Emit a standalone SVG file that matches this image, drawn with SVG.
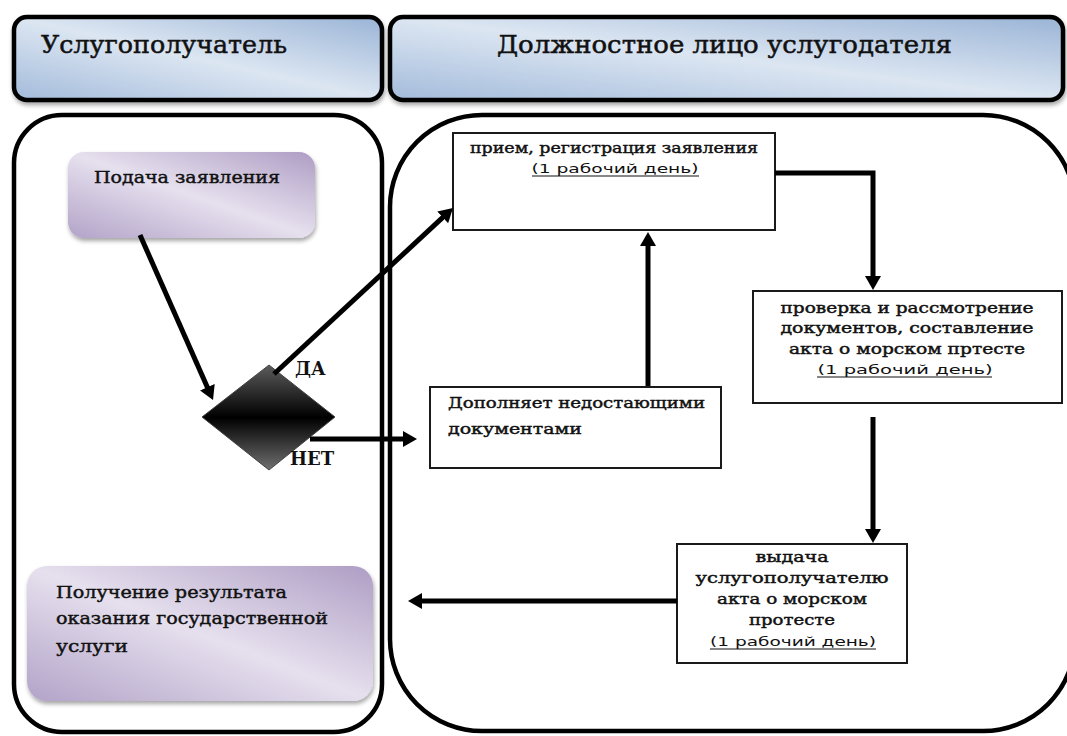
<svg xmlns="http://www.w3.org/2000/svg" width="1067" height="736" viewBox="0 0 1067 736">
<defs>
<linearGradient id="hg" x1="1" y1="0" x2="0" y2="1">
<stop offset="0" stop-color="#9ab4d6"/>
<stop offset="0.5" stop-color="#dce6f2"/>
<stop offset="1" stop-color="#a3bbdb"/>
</linearGradient>
<linearGradient id="pg" x1="1" y1="0" x2="0" y2="1">
<stop offset="0" stop-color="#ae9dc4"/>
<stop offset="0.5" stop-color="#e6e0ee"/>
<stop offset="1" stop-color="#b2a3c8"/>
</linearGradient>
<linearGradient id="dg" x1="0" y1="0" x2="0" y2="1">
<stop offset="0" stop-color="#5c5c5c"/>
<stop offset="0.5" stop-color="#000000"/>
<stop offset="1" stop-color="#707070"/>
</linearGradient>
<filter id="sh" x="-10%" y="-10%" width="120%" height="130%">
<feDropShadow dx="1" dy="3" stdDeviation="2" flood-color="#000" flood-opacity="0.35"/>
</filter>
<marker id="ah" markerUnits="userSpaceOnUse" markerWidth="16" markerHeight="18" refX="6" refY="8" orient="auto">
<path d="M0,0 L14,8 L0,16 Z" fill="#000"/>
</marker>
<style>
.hdr{fill:url(#hg);stroke:#000;stroke-width:4.5}
.lane{fill:#fff;stroke:#000;stroke-width:4.5}
.pur{fill:url(#pg);stroke:none}
.box{fill:#fff;stroke:#1a1a1a;stroke-width:2}
.ht{font-family:'DejaVu Serif',serif;font-size:25px;fill:#111;stroke:#111;stroke-width:0.5}
.t{font-family:'DejaVu Serif',serif;font-size:15px;fill:#111;stroke:#111;stroke-width:0.45}
.tb{font-family:'DejaVu Serif',serif;font-size:17px;fill:#111;stroke:#111;stroke-width:0.45}
.u{font-family:'DejaVu Sans',sans-serif;font-size:13px;fill:#111}
.ul{stroke:#111;stroke-width:1}
.lbl{font-family:'DejaVu Serif',serif;font-size:18px;font-weight:bold;fill:#111}
.c{stroke:#000;stroke-width:5;fill:none;marker-end:url(#ah)}
</style>
</defs>
<rect width="1067" height="736" fill="#fff"/>

<g id="header-recipient">
<rect class="hdr" x="14" y="17" width="368" height="83" rx="13" filter="url(#sh)"/>
<text class="ht" x="41" y="53" textLength="246" lengthAdjust="spacingAndGlyphs">Услугополучатель</text>
</g>
<g id="header-provider">
<rect class="hdr" x="390" y="17" width="673" height="83" rx="13" filter="url(#sh)"/>
<text class="ht" x="497" y="53" textLength="455" lengthAdjust="spacingAndGlyphs">Должностное лицо услугодателя</text>
</g>

<g id="lane-recipient">
<rect class="lane" x="14" y="115" width="368" height="617" rx="48"/>
</g>
<g id="lane-provider">
<rect class="lane" x="390" y="115" width="685" height="616" rx="92"/>
</g>

<g id="node-submit">
<rect class="pur" x="68" y="152" width="247" height="86" rx="16" filter="url(#sh)"/>
<text class="tb" x="94" y="183" textLength="186" lengthAdjust="spacingAndGlyphs">Подача заявления</text>
</g>

<g id="node-decision">
<polygon points="202,417 269,365 335,417 269,470" fill="url(#dg)" stroke="#444" stroke-width="1"/>
<text class="lbl" x="295" y="375">ДА</text>
<text class="lbl" x="290" y="465">НЕТ</text>
</g>

<g id="node-receive">
<rect class="box" x="453" y="133" width="322" height="97"/>
<text class="t" x="614" y="153" text-anchor="middle" textLength="288" lengthAdjust="spacingAndGlyphs">прием, регистрация заявления</text>
<text class="u" x="615" y="173" text-anchor="middle" textLength="167" lengthAdjust="spacingAndGlyphs">(1 рабочий день)</text>
<line class="ul" x1="532" y1="176" x2="699" y2="176"/>
</g>

<g id="node-supplement">
<rect class="box" x="430" y="387" width="291" height="81"/>
<text class="t" x="448" y="408" textLength="257" lengthAdjust="spacingAndGlyphs">Дополняет недостающими</text>
<text class="t" x="448" y="434" textLength="134" lengthAdjust="spacingAndGlyphs">документами</text>
</g>

<g id="node-check">
<rect class="box" x="753" y="291" width="309" height="112"/>
<text class="t" x="907" y="313" text-anchor="middle" textLength="253" lengthAdjust="spacingAndGlyphs">проверка и рассмотрение</text>
<text class="t" x="907" y="333" text-anchor="middle" textLength="253" lengthAdjust="spacingAndGlyphs">документов, составление</text>
<text class="t" x="907" y="354" text-anchor="middle" textLength="236" lengthAdjust="spacingAndGlyphs">акта о морском пртесте</text>
<text class="u" x="905" y="374" text-anchor="middle" textLength="175" lengthAdjust="spacingAndGlyphs">(1 рабочий день)</text>
<line class="ul" x1="817" y1="377" x2="992" y2="377"/>
</g>

<g id="node-issue">
<rect class="box" x="677" y="544" width="230" height="119"/>
<text class="t" x="792" y="562" text-anchor="middle" textLength="73" lengthAdjust="spacingAndGlyphs">выдача</text>
<text class="t" x="792" y="583" text-anchor="middle" textLength="193" lengthAdjust="spacingAndGlyphs">услугополучателю</text>
<text class="t" x="792" y="604" text-anchor="middle" textLength="150" lengthAdjust="spacingAndGlyphs">акта о морском</text>
<text class="t" x="792" y="625" text-anchor="middle" textLength="86" lengthAdjust="spacingAndGlyphs">протесте</text>
<text class="u" x="793" y="646" text-anchor="middle" textLength="166" lengthAdjust="spacingAndGlyphs">(1 рабочий день)</text>
<line class="ul" x1="710" y1="649" x2="876" y2="649"/>
</g>

<g id="node-result">
<rect class="pur" x="27" y="566" width="346" height="135" rx="20" filter="url(#sh)"/>
<text class="tb" x="56" y="598" textLength="231" lengthAdjust="spacingAndGlyphs">Получение результата</text>
<text class="tb" x="56" y="624" textLength="272" lengthAdjust="spacingAndGlyphs">оказания государственной</text>
<text class="tb" x="56" y="652" textLength="72" lengthAdjust="spacingAndGlyphs">услуги</text>
</g>

<g id="connectors">
<line class="c" x1="140" y1="235" x2="209.8" y2="392.7"/>
<line class="c" x1="274" y1="374" x2="447.1" y2="213.4"/>
<line class="c" x1="310" y1="439" x2="409" y2="439"/>
<line class="c" x1="648" y1="386" x2="648" y2="240"/>
<path class="c" d="M775,173 H873 V282"/>
<line class="c" x1="873" y1="417" x2="873" y2="535"/>
<line class="c" x1="677" y1="601" x2="416" y2="601"/>
</g>
</svg>
